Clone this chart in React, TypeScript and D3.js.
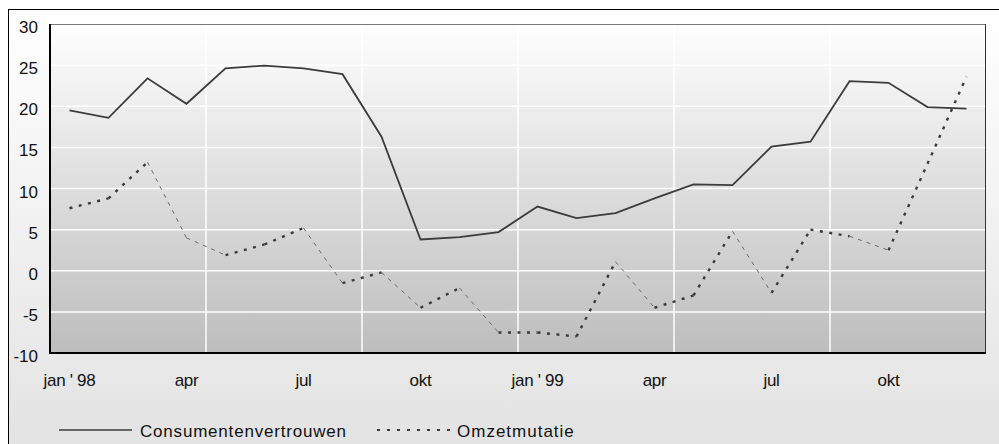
import * as React from 'react';
import * as d3 from "d3";

// maandlabels 1998-1999
const months = ["jan '98", "feb", "mrt", "apr", "mei", "jun", "jul", "aug", "sep", "okt", "nov", "dec",
    "jan '99", "feb", "mrt", "apr", "mei", "jun", "jul", "aug", "sep", "okt", "nov", "dec"];

const tickLabels = ["jan ' 98", "apr", "jul", "okt", "jan ' 99", "apr", "jul", "okt"];
const yTicks = [30, 25, 20, 15, 10, 5, 0, -5, -10];

const consumentenvertrouwen = [19.5, 18.6, 23.4, 20.3, 24.6, 24.95, 24.6, 23.9, 16.3, 3.8, 4.1, 4.7,
    7.8, 6.4, 7.0, 8.8, 10.5, 10.4, 15.1, 15.7, 23.05, 22.85, 19.9, 19.7];

const omzetmutatie = [7.6, 8.8, 13.2, 4.0, 1.9, 3.2, 5.2, -1.5, -0.2, -4.5, -2.1, -7.5,
    -7.5, -8.0, 1.1, -4.5, -3.0, 4.8, -2.7, 5.0, 4.2, 2.5, 13.0, 23.6];

const font = "'Liberation Sans', Arial, sans-serif";

export default function App() {
    const plot = { left: 50, top: 24, right: 986, bottom: 353 };

    const x = d3.scaleBand<number>()
        .domain(d3.range(months.length))
        .range([plot.left, plot.right])
        .padding(0);

    const y = d3.scaleLinear()
        .domain([-10, 30])
        .range([plot.bottom, plot.top]);

    const cx = (i: number) => (x(i) || 0) + x.bandwidth() / 2;

    const line = d3.line<number>()
        .curve(d3.curveLinear)
        .x((_, i) => cx(i))
        .y(v => y(v));

    // dotted series drawn per segment: falling parts come out thin in the original
    const segments = omzetmutatie.slice(1).map((v, i) => {
        const x0 = cx(i), x1 = cx(i + 1);
        const y0 = y(omzetmutatie[i]), y1 = y(v);
        const falling = (y1 - y0) > 0.35 * (x1 - x0);
        return { x0, x1, y0, y1, falling };
    });

    const gridX = d3.range(4, months.length, 4);

    return (
        <svg width={999} height={444} style={{ position: "absolute", left: 0, top: 0 }}>
            <defs>
                <linearGradient id="outerBg" x1="0" y1="0" x2="0" y2="1">
                    <stop offset="0%" stopColor="#ffffff" />
                    <stop offset="100%" stopColor="#e2e2e2" />
                </linearGradient>
                <linearGradient id="plotBg" x1="0" y1="0" x2="0" y2="1">
                    <stop offset="0%" stopColor="#fefefe" />
                    <stop offset="100%" stopColor="#bdbdbd" />
                </linearGradient>
            </defs>

            <rect x={8.5} y={9.5} width={1000} height={450} fill="url(#outerBg)" stroke="#000" strokeWidth={1} />

            <rect x={plot.left} y={plot.top} width={plot.right - plot.left} height={plot.bottom - plot.top}
                fill="url(#plotBg)" />

            {yTicks.filter(t => t > -10 && t < 30).map(t =>
                <line key={"gy" + t} x1={plot.left} x2={plot.right} y1={y(t)} y2={y(t)} stroke="#fff" strokeWidth={1.5} />
            )}
            {gridX.map(i =>
                <line key={"gx" + i} x1={x(i)} x2={x(i)} y1={plot.top} y2={plot.bottom} stroke="#fff" strokeWidth={1.5} />
            )}

            <line x1={plot.left} x2={plot.right} y1={plot.top + 0.5} y2={plot.top + 0.5} stroke="#777" strokeWidth={1} />
            <line x1={plot.right - 0.5} x2={plot.right - 0.5} y1={plot.top} y2={plot.bottom} stroke="#333" strokeWidth={1} />
            <line x1={plot.left} x2={plot.left} y1={plot.top} y2={plot.bottom + 1} stroke="#000" strokeWidth={2} />
            <line x1={plot.left - 1} x2={plot.right} y1={plot.bottom} y2={plot.bottom} stroke="#000" strokeWidth={2} />

            {yTicks.map(t =>
                <text key={"yt" + t} x={38} y={y(t) + 9} textAnchor="end" fontFamily={font} fontSize={17} fill="#111">{t}</text>
            )}

            {tickLabels.map((t, k) =>
                <text key={"xt" + k} x={cx(k * 3)} y={386} textAnchor="middle" fontFamily={font} fontSize={17}
                    letterSpacing={-0.3} fill="#111">{t}</text>
            )}

            <path d={line(consumentenvertrouwen) || undefined} fill="none" stroke="#3c3c3c" strokeWidth={1.8} />

            {segments.map((s, i) =>
                <line key={"om" + i} x1={s.x0} y1={s.y0} x2={s.x1} y2={s.y1}
                    stroke={s.falling ? "#6a6a6a" : "#3a3a3a"}
                    strokeWidth={s.falling ? 1 : 2.4}
                    strokeDasharray={s.falling ? "4 5" : "3 6.5"} />
            )}

            <g fontFamily={font} fontSize={17} fill="#111">
                <line x1={59} x2={132} y1={430} y2={430} stroke="#3c3c3c" strokeWidth={1.5} />
                <text x={140} y={437} letterSpacing={0.8}>Consumentenvertrouwen</text>
                <line x1={377} x2={450} y1={430} y2={430} stroke="#3a3a3a" strokeWidth={2} strokeDasharray="3 7" />
                <text x={457} y={437} letterSpacing={1}>Omzetmutatie</text>
            </g>
        </svg>
    );
}
